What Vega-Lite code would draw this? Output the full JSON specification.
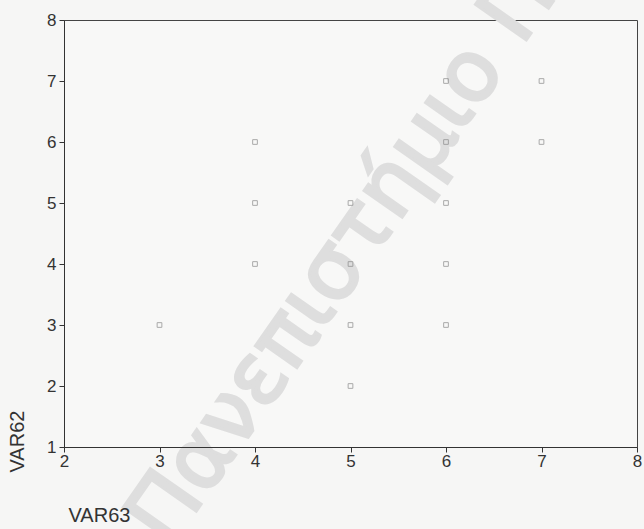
{
  "$schema": "https://vega.github.io/schema/vega-lite/v6.json",
  "width": 573,
  "height": 427,
  "autosize": {"type": "none"},
  "padding": {"left": 64, "top": 20, "right": 7, "bottom": 82},
  "background": "#f6f6f5",
  "config": {
    "font": "Liberation Sans",
    "view": {"stroke": "#444", "strokeWidth": 1, "fill": "#f8f8f7"}
  },
  "datasets": {
    "pts": [
      {"VAR63": 3, "VAR62": 3},
      {"VAR63": 4, "VAR62": 4},
      {"VAR63": 4, "VAR62": 5},
      {"VAR63": 4, "VAR62": 6},
      {"VAR63": 5, "VAR62": 2},
      {"VAR63": 5, "VAR62": 3},
      {"VAR63": 5, "VAR62": 4},
      {"VAR63": 5, "VAR62": 5},
      {"VAR63": 6, "VAR62": 3},
      {"VAR63": 6, "VAR62": 4},
      {"VAR63": 6, "VAR62": 5},
      {"VAR63": 6, "VAR62": 6},
      {"VAR63": 6, "VAR62": 7},
      {"VAR63": 7, "VAR62": 6},
      {"VAR63": 7, "VAR62": 7}
    ],
    "wm": [
      {"VAR63": 2.88, "VAR62": -0.44, "label": "Πανεπιστήμιο Πειραιώς"}
    ]
  },
  "layer": [
    {
      "data": {"name": "wm"},
      "mark": {"type": "text", "angle": 305, "align": "left", "baseline": "middle", "fontSize": 85, "font": "DejaVu Sans", "color": "#dedede", "stroke": "#dedede", "strokeWidth": 3, "clip": false},
      "encoding": {
        "x": {"field": "VAR63", "type": "quantitative"},
        "y": {"field": "VAR62", "type": "quantitative"},
        "text": {"field": "label"}
      }
    },
    {
      "data": {"name": "pts"},
      "mark": {"type": "point", "shape": "square", "size": 22, "filled": false, "color": "#8a8a8a", "strokeWidth": 1},
      "encoding": {
        "x": {
          "field": "VAR63", "type": "quantitative",
          "scale": {"domain": [2, 8], "nice": false, "zero": false},
          "axis": {
            "values": [2, 3, 4, 5, 6, 7, 8], "format": "d", "grid": false, "title": "VAR63", "zindex": 1,
            "domainColor": "#333", "tickColor": "#333", "tickSize": 5,
            "labelFontSize": 17, "labelColor": "#333", "labelPadding": 1, "labelFlush": false,
            "titleFontSize": 20, "titleFontWeight": "normal", "titleColor": "#333",
            "titleX": 4, "titleY": 68, "titleAlign": "left", "titleBaseline": "middle"
          }
        },
        "y": {
          "field": "VAR62", "type": "quantitative",
          "scale": {"domain": [1, 8], "nice": false, "zero": false},
          "axis": {
            "values": [1, 2, 3, 4, 5, 6, 7, 8], "format": "d", "grid": false, "title": "VAR62", "zindex": 1,
            "domainColor": "#333", "tickColor": "#333", "tickSize": 5,
            "labelFontSize": 17, "labelColor": "#333", "labelPadding": 3, "labelFlush": false,
            "titleFontSize": 20, "titleFontWeight": "normal", "titleColor": "#333",
            "titleAngle": 270, "titleX": -47, "titleY": 452, "titleAlign": "left", "titleBaseline": "middle"
          }
        }
      }
    }
  ]
}
